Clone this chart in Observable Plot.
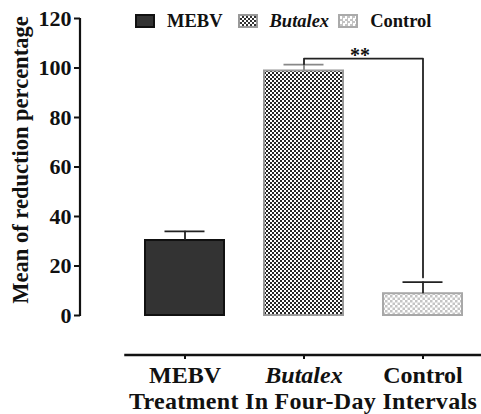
<!DOCTYPE html>
<html><head><meta charset="utf-8">
<script src="https://cdn.jsdelivr.net/npm/d3@7"></script>
<script src="https://cdn.jsdelivr.net/npm/@observablehq/plot@0.6"></script>
<style>
body{margin:0;background:#fff;}
#wrap{position:relative;width:481px;height:414px;font-family:"Liberation Serif","Times New Roman",serif;}
#legend{position:absolute;top:12px;left:135px;display:flex;align-items:center;font-weight:bold;font-size:18.5px;color:#111;white-space:nowrap;line-height:18px;font-family:"Liberation Serif","Times New Roman",serif;}
.sw{width:20px;height:14px;box-sizing:border-box;margin-right:12px;}
.sw.m{background:#333;border:2px solid #111;}
.sw.b{border:2px solid #999;background-color:#fff;background-image:repeating-conic-gradient(#333 0 25%,#fff 0 50%);background-size:4px 4px;}
.sw.c{border:2px solid #aaa;background-color:#fff;background-image:repeating-conic-gradient(#c4c4c4 0 25%,#fff 0 50%);background-size:5px 5px;}
.lt{margin-right:15px;}
.it{font-style:italic;}
</style>
</head><body>
<div id="wrap"><div id="legend"></div></div>
<script>
const groups = ["MEBV", "Butalex", "Control"];
const means = [30.3, 98.8, 8.8];
const errors = [3.7, 2.6, 4.7];
const yTicks = [0, 20, 40, 60, 80, 100, 120];
const bracketX = ["Butalex", "Butalex", "Control", "Control"];
const bracketY = [101.5, 103.8, 103.8, 15.4];
const sigLabel = "**";
const yLabel = "Mean of reduction percentage";
const xLabel = "Treatment In Four-Day Intervals";

const table = groups.map((g, i) => ({group: g, mean: means[i], top: means[i] + errors[i]}));
const bracket = bracketX.map((x, i) => ({x, y: bracketY[i]}));

const svgns = "http://www.w3.org/2000/svg";
function el(name, attrs) {
  const e = document.createElementNS(svgns, name);
  for (const k in attrs) e.setAttribute(k, attrs[k]);
  return e;
}
function defsMark() {
  const defs = el("defs", {});
  const p1 = el("pattern", {id: "chk1", width: 4, height: 4, patternUnits: "userSpaceOnUse"});
  p1.appendChild(el("rect", {width: 4, height: 4, fill: "#fff"}));
  p1.appendChild(el("rect", {width: 2, height: 2, fill: "#262626"}));
  p1.appendChild(el("rect", {x: 2, y: 2, width: 2, height: 2, fill: "#262626"}));
  const p2 = el("pattern", {id: "chk2", width: 5, height: 5, patternUnits: "userSpaceOnUse"});
  p2.appendChild(el("rect", {width: 5, height: 5, fill: "#fff"}));
  p2.appendChild(el("rect", {width: 2.5, height: 2.5, fill: "#c4c4c4"}));
  p2.appendChild(el("rect", {x: 2.5, y: 2.5, width: 2.5, height: 2.5, fill: "#c4c4c4"}));
  defs.appendChild(p1); defs.appendChild(p2);
  return defs;
}
function yAxisLine(index, scales, values, dims) {
  return el("line", {x1: dims.marginLeft, x2: dims.marginLeft, y1: scales.y(0) + 1, y2: scales.y(120), stroke: "#111", "stroke-width": 2.2});
}
function xAxisLine(index, scales, values, dims) {
  const y = dims.height - dims.marginBottom;
  const r = scales.scales.x.range;
  return el("line", {x1: r[0], x2: dims.width, y1: y, y2: y, stroke: "#111", "stroke-width": 2.6});
}

const chart = Plot.plot({
  width: 481, height: 414,
  marginLeft: 80, marginRight: 0, marginTop: 18, marginBottom: 59,
  style: {fontFamily: "Liberation Serif, Times New Roman, serif", fontWeight: "bold", color: "#111", background: "transparent"},
  x: {domain: groups, range: [124.25, 482.75], paddingInner: 0.322, paddingOuter: 0.161},
  y: {domain: [0, 120], range: [315, 18]},
  marks: [
    defsMark,
    Plot.axisY({ticks: yTicks, tickSize: 6, tickPadding: 3, fontSize: 22, label: null, strokeWidth: 2}),
    yAxisLine,
    Plot.axisX({tickSize: 4, tickPadding: 6, fontSize: 24, label: null, strokeWidth: 2}),
    xAxisLine,
    Plot.barY(table, {filter: d => d.group === "MEBV", x: "group", y: "mean", fill: "#333333", stroke: "#111", strokeWidth: 2, insetLeft: 1, insetRight: 1}),
    Plot.barY(table, {filter: d => d.group === "Butalex", x: "group", y: "mean", fill: "url(#chk1)", stroke: "#9a9a9a", strokeWidth: 2, insetLeft: 1, insetRight: 1}),
    Plot.barY(table, {filter: d => d.group === "Control", x: "group", y: "mean", fill: "url(#chk2)", stroke: "#a8a8a8", strokeWidth: 2, insetLeft: 1, insetRight: 1}),
    Plot.ruleX(table, {x: "group", y1: "mean", y2: "top", stroke: d => d.group === "Butalex" ? "#888" : "#222", strokeWidth: 1.8}),
    Plot.tickY(table, {x: "group", y: "top", stroke: d => d.group === "Butalex" ? "#888" : "#222", strokeWidth: 1.8, insetLeft: 20.5, insetRight: 20.5}),
    Plot.line(bracket, {x: "x", y: "y", stroke: "#222", strokeWidth: 1.8, curve: "linear"}),
    Plot.text([sigLabel], {x: () => "Butalex", y: () => bracketY[1], dx: 56, dy: -3, fontSize: 20, fill: "#111"}),
    Plot.text([yLabel], {frameAnchor: "left", textAnchor: "middle", rotate: -90, dx: -60, dy: -27, fontSize: 22.5, fill: "#111"}),
    Plot.text([xLabel], {x: () => "Butalex", frameAnchor: "bottom", dy: 53, dx: -1, fontSize: 24, fill: "#111"})
  ]
});
d3.select(chart).selectAll("text").filter(function() { return this.textContent === "Butalex"; }).style("font-style", "italic");
d3.select(chart).selectAll("text").filter(function() { return this.textContent === xLabel; }).style("letter-spacing", "0.3px");
document.getElementById("wrap").prepend(chart);

const legend = document.getElementById("legend");
const cls = ["m", "b", "c"];
groups.forEach((g, i) => {
  const sw = document.createElement("div");
  sw.className = "sw " + cls[i];
  const t = document.createElement("span");
  t.className = "lt" + (g === "Butalex" ? " it" : "");
  if (g === "Butalex") t.style.marginRight = "9px";
  t.textContent = g;
  legend.appendChild(sw); legend.appendChild(t);
});
</script>
</body></html>
